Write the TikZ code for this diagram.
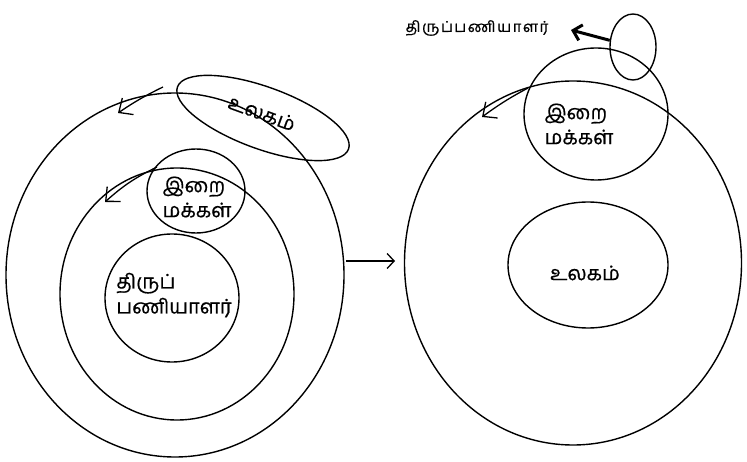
\documentclass[tikz,border=0pt]{standalone}
\usepackage{fontspec}
\newfontfamily\tamil[Script=Tamil,FakeBold=0.6]{Hind Madurai}
\newfontfamily\tamilwide[Script=Tamil,FakeBold=0.6,LetterSpace=10]{Hind Madurai}
\usetikzlibrary{shapes.geometric,arrows.meta}

\begin{document}
\begin{tikzpicture}[x=1pt,y=-1pt,
    ring/.style={ellipse,draw,line width=1.4pt,inner sep=0pt},
    word/.style={font=\tamil\fontsize{20}{25}\selectfont,align=left,inner sep=0pt},
    barb/.style={-{Straight Barb[length=11pt,width=20pt]},line width=1.3pt}]
    \useasboundingbox (0,0) rectangle (747,462);
    % left picture
    \node[ring,minimum width=338,minimum height=364] (outerL) at (175,275) {};
    \node[ring,minimum width=234,minimum height=252] (midL) at (177,294) {};
    \node[ring,minimum width=134,minimum height=128] (coreL) at (172,298) {};
    \node[ring,minimum width=98,minimum height=84] (peopleL) at (196,191) {};
    \node[ring,minimum width=182,minimum height=62,rotate=-20] (worldL) at (263,118) {};
    \node[word,rotate=-20] (worldLtxt) at (262,113) {உலகம்};
    \node[word] (peopleLtxt) at (197,197) {இறை\\மக்கள்};
    \node[word] (coreLtxt) at (174,295) {திருப்\\பணியாளர்};
    \coordinate (outerA) at (163,87);
    \coordinate (outerB) at (118,113);
    \coordinate (midA) at (157,167);
    \coordinate (midB) at (105,202);
    \draw[barb] (outerA) to[bend right=4] (outerB);
    \draw[barb] (midA) to[bend right=8] (midB);
    % between
    \coordinate (gapA) at (346,261);
    \coordinate (gapB) at (395,261);
    \draw[-{Straight Barb[length=7pt,width=15pt]},line width=1.3pt] (gapA) -- (gapB);
    % right picture
    \node[ring,minimum width=337,minimum height=364] (bigR) at (573,263) {};
    \node[ring,minimum width=160,minimum height=126] (worldR) at (588,265) {};
    \node[ring,minimum width=144,minimum height=132] (peopleR) at (596,114) {};
    \node[ring,minimum width=46,minimum height=66] (servR) at (633,47) {};
    \node[word] (worldRtxt) at (585,273) {உலகம்};
    \node[word] (peopleRtxt) at (579,124) {இறை\\மக்கள்};
    \node[word,font=\tamilwide\fontsize{15}{18}\selectfont] (servRtxt) at (477,28) {திருப்பணியாளர்};
    \coordinate (servTip) at (571,30);
    \draw[-{Straight Barb[length=8pt,width=16pt]},line width=3pt] (servR.164) -- (servTip);
    \coordinate (bigA) at (528,88);
    \coordinate (bigB) at (482,117);
    \draw[barb] (bigA) to[bend right=4] (bigB);
\end{tikzpicture}
\end{document}
